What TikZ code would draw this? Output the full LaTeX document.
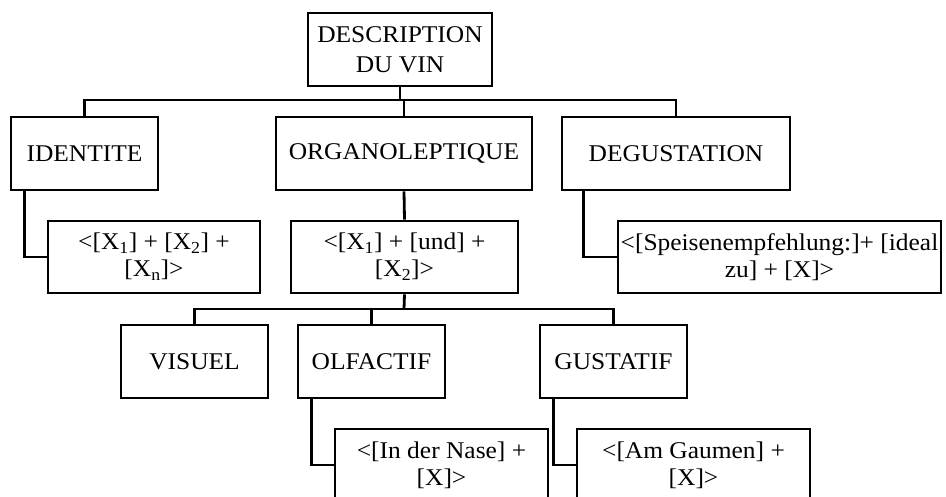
\documentclass[tikz,border=0pt]{standalone}
\usepackage{fontspec}
\setmainfont{Liberation Serif}[FakeStretch=1.06]

\begin{document}
\begin{tikzpicture}[x=1pt, y=-1pt,
  box/.style={draw, line width=2.8pt, align=center, inner sep=0pt,
    minimum height=73pt, font=\fontsize{24}{27}\selectfont},
  link/.style={line width=2.8pt}]
  \clip (0,0) rectangle (946,497);

  % Root
  \node[box, minimum width=184pt, font=\fontsize{24}{30}\selectfont] (root) at (400,49.5) {DESCRIPTION\\DU VIN};

  % First level
  \node[box, minimum width=147pt] (ident) at (84.5,153.5) {IDENTITE};
  \node[box, minimum width=256pt] (organo) at (404,153.5) {ORGANOLEPTIQUE};
  \node[box, minimum width=228pt] (degust) at (676,153.5) {DEGUSTATION};

  \node[box, minimum width=212pt, minimum height=72pt] (identsub) at (154,257)
    {<[X\textsubscript{1}] + [X\textsubscript{2}] +\\{}[X\textsubscript{n}]>};
  \node[box, minimum width=227pt, minimum height=72pt] (organosub) at (404.5,257)
    {<[X\textsubscript{1}] + [und] +\\{}[X\textsubscript{2}]>};
  \node[box, minimum width=323pt, minimum height=72pt] (degustsub) at (779.5,257)
    {<[Speisenempfehlung:]+ [ideal\\{}zu] + [X]>};

  \coordinate (bar1) at (400,100);
  \draw[link] (root.south) -- (bar1);
  \draw[link] (ident.north) |- (bar1) -| (degust.north);
  \draw[link] (organo.north) -- (organo.north |- bar1);

  \draw[link] ([xshift=15pt]ident.south west) |- (identsub.west);
  \draw[link] (organo.south) -- (organosub.north);
  \draw[link] ([xshift=23pt]degust.south west) |- (degustsub.west);

  % Second level
  \node[box, minimum width=147pt] (visuel) at (194.5,361.5) {VISUEL};
  \node[box, minimum width=147pt] (olfact) at (371.5,361.5) {OLFACTIF};
  \node[box, minimum width=147pt] (gustat) at (613.5,361.5) {GUSTATIF};

  \node[box, minimum width=213pt, minimum height=72pt] (olfsub) at (441.5,465)
    {<[In der Nase] +\\{}[X]>};
  \node[box, minimum width=233pt, minimum height=72pt] (gussub) at (693.5,465)
    {<[Am Gaumen] +\\{}[X]>};

  \coordinate (bar2) at (404,309);
  \draw[link] (organosub.south) -- (bar2);
  \draw[link] (visuel.north) |- (bar2) -| (gustat.north);
  \draw[link] (olfact.north) -- (olfact.north |- bar2);

  \draw[link] ([xshift=15pt]olfact.south west) |- (olfsub.west);
  \draw[link] ([xshift=15pt]gustat.south west) |- (gussub.west);
\end{tikzpicture}
\end{document}
